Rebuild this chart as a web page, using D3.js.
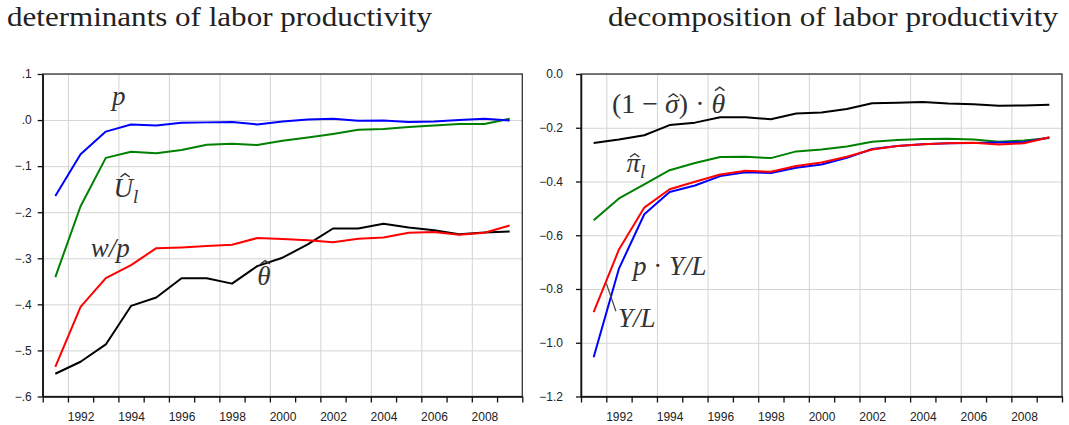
<!DOCTYPE html>
<html lang="en">
<head>
<meta charset="UTF-8">
<title>labor productivity</title>
<script src="https://cdn.jsdelivr.net/npm/d3@7"></script>
<style>
    body { margin: 0; background: #fff; }
</style>
</head>
<body>
<div id="fig"></div>
<script>
    const width = 1069, height = 425;
    const serif = "'Liberation Serif', 'DejaVu Serif', 'Times New Roman', serif";
    const sans = "'Liberation Sans', Arial, sans-serif";

    const years = [1991, 1992, 1993, 1994, 1995, 1996, 1997, 1998, 1999, 2000,
                   2001, 2002, 2003, 2004, 2005, 2006, 2007, 2008, 2009];
    const yearLabels = [1992, 1994, 1996, 1998, 2000, 2002, 2004, 2006, 2008];

    // left: determinants
    const p_vals = [-0.165, -0.074, -0.025, -0.0095, -0.012, -0.006, -0.005, -0.004, -0.0095, -0.003,
                    0.001, 0.003, -0.0015, -0.001, -0.004, -0.003, 0.0, 0.003, -0.001];
    const Ul_vals = [-0.341, -0.187, -0.082, -0.0686, -0.072, -0.065, -0.0535, -0.0513, -0.054, -0.045,
                     -0.038, -0.030, -0.021, -0.0195, -0.015, -0.0117, -0.0087, -0.0087, 0.003];
    const wp_vals = [-0.5355, -0.4056, -0.343, -0.315, -0.278, -0.2764, -0.2736, -0.2706, -0.256, -0.2584,
                     -0.261, -0.265, -0.2577, -0.2548, -0.2447, -0.243, -0.249, -0.2447, -0.229];
    const theta_vals = [-0.5506, -0.5246, -0.487, -0.4034, -0.385, -0.3435, -0.3435, -0.355, -0.317, -0.2987,
                        -0.27, -0.2353, -0.2353, -0.2251, -0.233, -0.239, -0.2476, -0.244, -0.2418];

    // right: decomposition
    const st_vals = [-0.257, -0.244, -0.228, -0.190, -0.181, -0.161, -0.161, -0.168, -0.147, -0.143,
                     -0.130, -0.109, -0.107, -0.104, -0.110, -0.113, -0.118, -0.117, -0.114];
    const pil_vals = [-0.544, -0.463, -0.411, -0.358, -0.331, -0.309, -0.308, -0.313, -0.288, -0.281,
                      -0.270, -0.252, -0.246, -0.242, -0.241, -0.2435, -0.252, -0.247, -0.2385];
    const YL_vals = [-1.054, -0.724, -0.522, -0.439, -0.415, -0.380, -0.366, -0.368, -0.349, -0.337,
                     -0.312, -0.279, -0.268, -0.261, -0.258, -0.257, -0.255, -0.254, -0.236];
    const pYL_vals = [-0.886, -0.653, -0.497, -0.429, -0.401, -0.374, -0.360, -0.364, -0.342, -0.329,
                      -0.308, -0.281, -0.268, -0.261, -0.258, -0.256, -0.262, -0.258, -0.235];

    const leftTicks = [0.1, 0.0, -0.1, -0.2, -0.3, -0.4, -0.5, -0.6];
    const rightTicks = [0.0, -0.2, -0.4, -0.6, -0.8, -1.0, -1.2];

    const svg = d3.select("#fig").append("svg")
        .attr("width", width)
        .attr("height", height);

    function styleTicks(a) {
        a.selectAll("text")
            .style("font-family", sans)
            .style("font-size", "12px")
            .style("fill", "#222");
    }

    // text with optional hats (drawn as a small caret path over the character)
    function mathLabel(g, px, py, size, parts) {
        const t = g.append("text")
            .attr("x", px).attr("y", py)
            .style("font-family", serif)
            .style("font-style", "italic")
            .style("font-size", size + "px")
            .style("fill", "#333");
        const hats = [];
        let idx = 0;
        parts.forEach(pt => {
            const ts = t.append("tspan").text(pt.t);
            if (pt.sub) ts.attr("dy", 6).style("font-size", Math.round(size * 0.7) + "px");
            if (pt.up) ts.style("font-style", "normal");
            if (pt.hat) hats.push({i: idx, top: pt.hat});
            idx += pt.t.length;
        });
        hats.forEach(h => {
            const b = t.node().getExtentOfChar(h.i);
            const cx = b.x + b.width * 0.6;
            const yb = py - h.top * size;
            const w = 0.34 * size, hh = 0.12 * size;
            g.append("path")
                .attr("d", "M" + (cx - w / 2) + "," + yb + "L" + cx + "," + (yb - hh) + "L" + (cx + w / 2) + "," + yb)
                .attr("fill", "none")
                .attr("stroke", "#333")
                .attr("stroke-width", 1.4)
                .attr("stroke-linejoin", "miter");
        });
    }

    function panel(cfg) {
        const x = d3.scaleLinear().domain([1990.5, 2009.5]).range([cfg.left, cfg.right]);
        const y = d3.scaleLinear().domain(cfg.ydomain).range([74, 396.5]);
        const g = svg.append("g");

        // vertical grid at even year boundaries
        g.append("g")
            .attr("transform", "translate(0,74)")
            .call(d3.axisBottom(x).tickValues(yearLabels.map(d => d - 0.5)).tickSize(322.5).tickFormat(""))
            .call(a => a.select(".domain").remove())
            .call(a => a.selectAll("line").attr("stroke", "#d4d4d4"));
        // horizontal grid
        g.append("g")
            .attr("transform", "translate(" + cfg.left + ",0)")
            .call(d3.axisRight(y).tickValues(cfg.ticks).tickSize(cfg.right - cfg.left).tickFormat(""))
            .call(a => a.select(".domain").remove())
            .call(a => a.selectAll("line").attr("stroke", "#d4d4d4"));

        // frame
        g.append("rect")
            .attr("x", cfg.left).attr("y", 74)
            .attr("width", cfg.right - cfg.left).attr("height", 322.5)
            .attr("fill", "none").attr("stroke", "#333").attr("stroke-width", 1.3);

        const line = d3.line()
            .x((d, i) => x(years[i]))
            .y(d => y(d));
        cfg.series.forEach(s => {
            g.append("path")
                .datum(s.values)
                .attr("fill", "none")
                .attr("stroke", s.color)
                .attr("stroke-width", 2)
                .attr("stroke-linejoin", "round")
                .attr("d", line);
        });

        // x axis: ticks at every year boundary, labels at even year centres
        const boundaries = years.map(d => d - 0.5).concat([2009.5]);
        g.append("g")
            .attr("transform", "translate(0,396.5)")
            .call(d3.axisBottom(x).tickValues(boundaries).tickSize(6).tickSizeOuter(0).tickFormat(""))
            .call(a => a.select(".domain").attr("stroke", "#111").attr("stroke-width", 1.5))
            .call(a => a.selectAll("line").attr("stroke", "#111").attr("stroke-width", 1.3));
        g.append("g")
            .attr("transform", "translate(0,396.5)")
            .call(d3.axisBottom(x).tickValues(yearLabels).tickSize(0).tickPadding(16).tickFormat(d3.format("d")))
            .call(a => a.select(".domain").remove())
            .call(styleTicks);

        // y axis
        g.append("g")
            .attr("transform", "translate(" + cfg.left + ",0)")
            .call(d3.axisLeft(y).tickValues(cfg.ticks).tickSize(5).tickSizeOuter(0)
                .tickPadding(cfg.pad).tickFormat(cfg.fmt))
            .call(a => a.select(".domain").attr("stroke", "#111").attr("stroke-width", 1.5))
            .call(a => a.selectAll("line").attr("stroke", "#111").attr("stroke-width", 1.3))
            .call(styleTicks);

        cfg.labels.forEach(l => mathLabel(g, x(l.at[0]), y(l.at[1]), l.size || 27, l.parts));
        if (cfg.leader) {
            g.append("line")
                .attr("x1", x(cfg.leader[0][0])).attr("y1", y(cfg.leader[0][1]))
                .attr("x2", x(cfg.leader[1][0])).attr("y2", y(cfg.leader[1][1]))
                .attr("stroke", "#444").attr("stroke-width", 1.2);
        }
    }

    panel({
        left: 42.7, right: 522.3, ydomain: [0.1, -0.6], ticks: leftTicks, pad: 6,
        fmt: d => d3.format(".1f")(d).replace("0.", ".").replace("-.0", ".0"),
        series: [
            {values: theta_vals, color: "#000000"},
            {values: wp_vals, color: "#ff0000"},
            {values: Ul_vals, color: "#008000"},
            {values: p_vals, color: "#0000ff"}
        ],
        labels: [
            {at: [1993.25, 0.033], parts: [{t: "p"}]},
            {at: [1993.3, -0.168], parts: [{t: "U", hat: 0.76}, {t: "l", sub: true}]},
            {at: [1992.4, -0.298], parts: [{t: "w/p"}]},
            {at: [1999.0, -0.359], parts: [{t: "\u03B8", hat: 0.8}]}
        ]
    });

    panel({
        left: 581, right: 1062, ydomain: [0.0, -1.2], ticks: rightTicks, pad: 13,
        fmt: d => d3.format(".1f")(d).replace("-0.0", "0.0"),
        series: [
            {values: st_vals, color: "#000000"},
            {values: pil_vals, color: "#008000"},
            {values: YL_vals, color: "#0000ff"},
            {values: pYL_vals, color: "#ff0000"}
        ],
        labels: [
            {at: [1991.72, -0.145], size: 28, parts: [{t: "(1 \u2212 ", up: true}, {t: "\u03C3", hat: 0.56}, {t: ") \u00B7 ", up: true}, {t: "\u03B8", hat: 0.8}]},
            {at: [1992.3, -0.365], parts: [{t: "\u03C0", hat: 0.56}, {t: "l", sub: true}]},
            {at: [1992.55, -0.749], parts: [{t: "p "}, {t: "\u00B7 ", up: true}, {t: "Y/L"}]},
            {at: [1991.96, -0.943], parts: [{t: "Y/L"}]}
        ],
        leader: [[1991.5, -0.779], [1991.88, -0.883]]
    });

    svg.append("text")
        .attr("x", 7).attr("y", 26)
        .attr("textLength", 425).attr("lengthAdjust", "spacingAndGlyphs")
        .style("font-family", serif).style("font-size", "27px").style("fill", "#222")
        .text("determinants of labor productivity");
    svg.append("text")
        .attr("x", 608).attr("y", 26)
        .attr("textLength", 450).attr("lengthAdjust", "spacingAndGlyphs")
        .style("font-family", serif).style("font-size", "27px").style("fill", "#222")
        .text("decomposition of labor productivity");
</script>
</body>
</html>
